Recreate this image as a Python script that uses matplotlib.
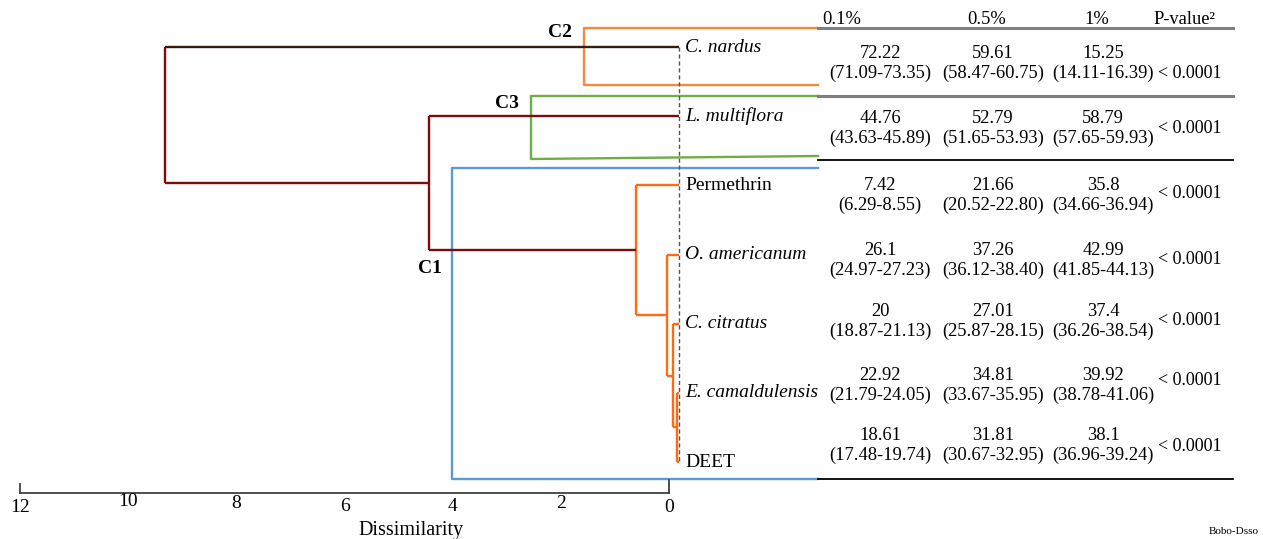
import numpy as np
import matplotlib.pyplot as plt

plt.rcParams['font.family'] = ['Liberation Serif', 'DejaVu Serif']

# leaves, top to bottom
leaves = ['C. nardus', 'L. multiflora', 'Permethrin', 'O. americanum',
          'C. citratus', 'E. camaldulensis', 'DEET']
italic = [True, True, False, True, True, True, False]

# merges: (child a, child b, height above leaves, colour); new node ids start at 7
merges = [(5, 6, 0.04, '#FF6A13'),
          (4, 7, 0.11, '#FF6A13'),
          (3, 8, 0.23, '#FF6A13'),
          (2, 9, 0.80, '#FF6A13'),
          (1, 10, 4.63, '#7B0C0C'),
          (0, 11, 9.50, '#7B0C0C')]
branch_override = {0: '#3B1A0E'}   # C. nardus branch looks darker

# table
headers = ['0.1%', '0.5%', '1%', 'P-value²']
lc01 = ['72.22', '44.76', '7.42', '26.1', '20', '22.92', '18.61']
ci01 = ['(71.09-73.35)', '(43.63-45.89)', '(6.29-8.55)', '(24.97-27.23)',
        '(18.87-21.13)', '(21.79-24.05)', '(17.48-19.74)']
lc05 = ['59.61', '52.79', '21.66', '37.26', '27.01', '34.81', '31.81']
ci05 = ['(58.47-60.75)', '(51.65-53.93)', '(20.52-22.80)', '(36.12-38.40)',
        '(25.87-28.15)', '(33.67-35.95)', '(30.67-32.95)']
lc1 = ['15.25', '58.79', '35.8', '42.99', '37.4', '39.92', '38.1']
ci1 = ['(14.11-16.39)', '(57.65-59.93)', '(34.66-36.94)', '(41.85-44.13)',
       '(36.26-38.54)', '(38.78-41.06)', '(36.96-39.24)']
pval = ['< 0.0001'] * 7

ticks = [12, 10, 8, 6, 4, 2, 0]

# ---- layout (pixel based helpers) ----
W, H = 1263, 539
X0, SX = 669, 54.08        # pixel of axis 0, pixels per unit
Y0, SY = 47, 69.17         # pixel of first leaf, pixels per leaf
LEAF_X = -0.185            # leaf tips sit a bit right of the axis 0

def px(p):
    return (X0 - p) / SX

def py(p):
    return (p - Y0) / SY

fig = plt.figure(figsize=(W / 100, H / 100), dpi=100)
ax = fig.add_axes([0, 0, 1, 1])
ax.set_xlim(px(0), px(W))
ax.set_ylim(py(H), py(0))
ax.axis('off')

# ---- dendrogram ----
node_x = {i: LEAF_X for i in range(len(leaves))}
node_y = {i: float(i) for i in range(len(leaves))}
for k, (a, b, h, col) in enumerate(merges):
    n = len(leaves) + k
    x = LEAF_X + h
    for c in (a, b):
        ccol = branch_override.get(c, col)
        ax.plot([node_x[c], x], [node_y[c], node_y[c]], color=ccol, lw=1.7,
                solid_capstyle='butt', zorder=3)
    ax.plot([x, x], [node_y[a], node_y[b]], color=col, lw=1.7,
            solid_capstyle='butt', zorder=3)
    node_x[n] = x
    node_y[n] = (node_y[a] + node_y[b]) / 2

ax.plot([LEAF_X, LEAF_X], [0, len(leaves) - 1], color='#555555', lw=1,
        ls=(0, (3, 2)), zorder=4)

for i, name in enumerate(leaves):
    ax.text(px(685), i, name, ha='left', va='center', fontsize=14,
            style='italic' if italic[i] else 'normal')

# cluster boxes (open at the table side)
boxes = [('C2', 584, 28, 85, 85, '#F28B3C', (560, 32)),
         ('C3', 531, 96, 159, 156, '#70AD47', (507, 103)),
         ('C1', 452, 168, 479, 479, '#5B9BD5', (430, 268))]
for lab, left, top, bot, bot_r, col, (tx, ty) in boxes:
    ax.plot([px(818), px(left), px(left), px(818)],
            [py(top), py(top), py(bot), py(bot_r)], color=col, lw=1.7, zorder=2)
    ax.text(px(tx), py(ty), lab, ha='center', va='center', fontsize=14,
            fontweight='bold')

# ---- dissimilarity axis ----
ax.plot([12, 0], [py(493), py(493)], color='#404040', lw=1.3)
ax.plot([12, 12], [py(484), py(493)], color='#404040', lw=1.3)
ax.plot([0, 0], [py(480), py(493)], color='#404040', lw=1.3)
label_y = [508, 501, 503, 506, 506, 503, 507]
for t, ly in zip(ticks, label_y):
    ax.text(t, py(ly), str(t), ha='center', va='center', fontsize=14)
ax.text(px(411), py(530), 'Dissimilarity', ha='center', va='center',
        fontsize=14.5)

# ---- table ----
for yl, col, lw in [(28, '#7F7F7F', 2.2), (96, '#7F7F7F', 2.2),
                    (160, 'black', 1.3), (479, 'black', 1.3)]:
    ax.plot([px(818), px(1233)], [py(yl), py(yl)], color=col, lw=lw)

ax.text(px(822), py(19), headers[0], ha='left', va='center', fontsize=13.3)
for hx, htxt in zip([987, 1097, 1184], headers[1:]):
    ax.text(px(hx), py(19), htxt, ha='center', va='center', fontsize=13.3)

val_y = [53, 118, 185, 250, 311, 375, 435]
p_y = [73, 128, 193, 259, 320, 380, 446]
cols = [(880, lc01, ci01), (993, lc05, ci05), (1103, lc1, ci1)]
for r in range(len(leaves)):
    for cx, vals, cis in cols:
        ax.text(px(cx), py(val_y[r]), vals[r], ha='center', va='center',
                fontsize=13.3)
        ax.text(px(cx), py(val_y[r] + 20), cis[r], ha='center', va='center',
                fontsize=13.3)
    ax.text(px(1190), py(p_y[r]), pval[r], ha='center', va='center',
            fontsize=13)

ax.text(px(1234), py(531), 'Bobo-Dsso', ha='center', va='center', fontsize=8)

fig.savefig('out.png', dpi=100)
